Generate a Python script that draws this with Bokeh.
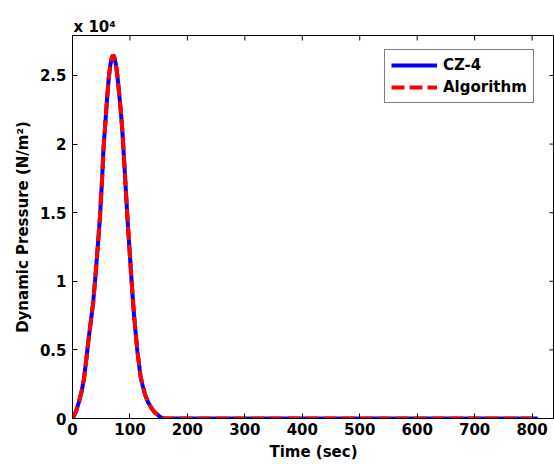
import math
from bokeh.plotting import figure
from bokeh.models import (FixedTicker, Legend, LegendItem, ColumnDataSource, Range1d)
from bokeh.embed import file_html
from bokeh.resources import INLINE

# ---- data ----
time_cz4 = [0, 2, 6, 11, 16, 20, 24, 28, 32, 36, 39, 43, 47.5, 51.7, 54, 57.4,
            60, 63.2, 66, 68.5, 70.8, 73, 75.5, 77.8, 80.5, 83.5, 86, 88.2, 91,
            95.2, 99.7, 104.4, 107, 110, 113, 118.3, 122, 127, 132, 138.7, 143,
            148.4, 153, 158, 165, 810]
pressure_cz4 = [0, 150, 500, 1170, 2000, 2900, 4300, 5790, 7100, 8460, 9900,
                12000, 14500, 17600, 19700, 21715, 23200, 24870, 25800, 26300,
                26500, 26300, 25800, 25120, 24000, 22680, 21400, 20000, 18000,
                14910, 11990, 9075, 7600, 6200, 4900, 3115, 2400, 1655, 1150,
                685, 450, 270, 100, 20, 0, 0]
time_alg = time_cz4[:-1] + [800]
pressure_alg = pressure_cz4[:-1] + [0]

x_ticks = [0, 100, 200, 300, 400, 500, 600, 700, 800]
y_ticks = [0, 5000, 10000, 15000, 20000, 25000]
y_tick_labels = ["0", "0.5", "1", "1.5", "2", "2.5"]
x_max = 839
y_max = 27915

FONT = "DejaVu Sans"

p = figure(width=554, height=464, output_backend="svg", toolbar_location=None,
           x_range=Range1d(0, x_max), y_range=Range1d(0, y_max),
           min_border_left=72, min_border_right=0, min_border_top=35,
           min_border_bottom=46, x_axis_label="Time (sec)",
           y_axis_label="Dynamic Pressure (N/m²)")
p.background_fill_color = "white"
p.border_fill_color = "white"
p.outline_line_color = "black"
p.outline_line_width = 1
p.xgrid.visible = False
p.ygrid.visible = False

# exponent note as title
p.title.text = "x 10⁴"
p.title.align = "left"
p.title.offset = 1
p.title.standoff = 0
p.title.text_font = FONT
p.title.text_font_style = "bold"
p.title.text_font_size = "15px"
p.title.text_color = "black"

src_cz = ColumnDataSource(dict(t=time_cz4, v=pressure_cz4))
src_alg = ColumnDataSource(dict(t=time_alg, v=pressure_alg))
r1 = p.line("t", "v", source=src_cz, line_color="#0000ff", line_width=4)
r2 = p.line("t", "v", source=src_alg, line_color="#ff0000", line_width=4,
            line_dash="13 5")

# inward ticks on the top and right edges (clipped half of a 10px dash)
p.scatter(x=x_ticks, y=[y_max] * len(x_ticks), marker="dash", size=10,
          angle=math.pi / 2, line_color="black", line_width=1)
p.scatter(x=[x_max] * len(y_ticks), y=y_ticks, marker="dash", size=10,
          line_color="black", line_width=1)

for ax in (p.xaxis[0], p.yaxis[0]):
    ax.major_tick_in = 5
    ax.major_tick_out = 0
    ax.minor_tick_line_color = None
    ax.axis_line_color = "black"
    ax.major_tick_line_color = "black"
    ax.major_label_text_font = FONT
    ax.major_label_text_font_style = "bold"
    ax.major_label_text_font_size = "15px"
    ax.major_label_text_color = "black"
    ax.axis_label_text_font = FONT
    ax.axis_label_text_font_style = "bold"
    ax.axis_label_text_font_size = "15px"
    ax.axis_label_text_color = "black"

p.xaxis[0].ticker = FixedTicker(ticks=x_ticks)
p.xaxis[0].major_label_standoff = 4
p.xaxis[0].axis_label_standoff = 5
p.yaxis[0].ticker = FixedTicker(ticks=y_ticks)
p.yaxis[0].major_label_overrides = {t: s for t, s in zip(y_ticks, y_tick_labels)}
p.yaxis[0].major_label_standoff = 6
p.yaxis[0].axis_label_standoff = 5

legend = Legend(items=[LegendItem(label="CZ-4", renderers=[r1]),
                       LegendItem(label="Algorithm", renderers=[r2])],
                location=(312, 315), label_text_font=FONT,
                label_text_font_style="bold", label_text_font_size="15px",
                label_text_color="black", glyph_width=46, glyph_height=18,
                label_height=18, spacing=4, padding=6, margin=0,
                label_standoff=6, border_line_color="black",
                border_line_width=1, background_fill_color="white",
                background_fill_alpha=1)
p.add_layout(legend)

open("out.html", "w").write(file_html(p, INLINE))
